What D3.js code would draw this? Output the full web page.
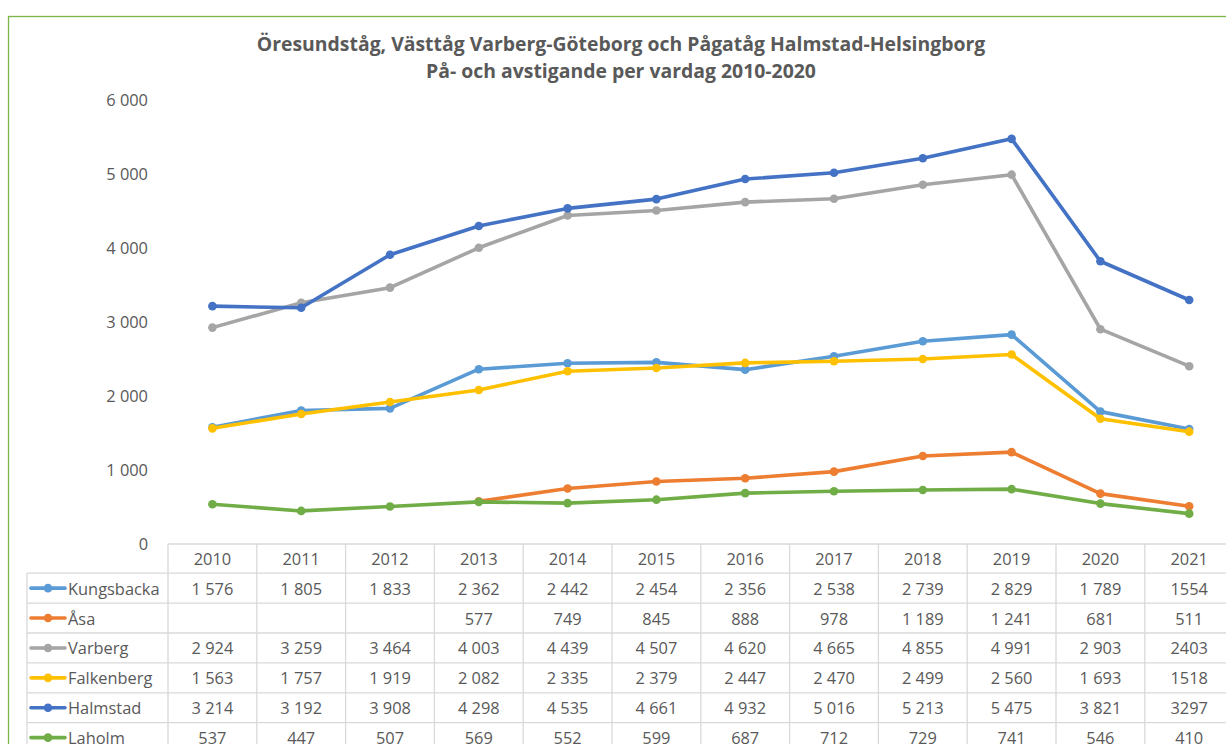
<!DOCTYPE html>
<html>
<head>
<meta charset="utf-8">
<script src="https://cdn.jsdelivr.net/npm/d3@7"></script>
<style>
  html, body { margin: 0; padding: 0; background: #fff; }
  svg { display: block; }
  text { font-family: "Open Sans", "Noto Sans", sans-serif; fill: #595959; }
</style>
</head>
<body>
<svg id="chart" width="1226" height="744"></svg>
<script>
const titleLines = [
  "Öresundståg, Västtåg Varberg-Göteborg och Pågatåg Halmstad-Helsingborg",
  "På- och avstigande per vardag 2010-2020"
];
const years = ["2010","2011","2012","2013","2014","2015","2016","2017","2018","2019","2020","2021"];
const yTicks = [0, 1000, 2000, 3000, 4000, 5000, 6000];
const seriesNames = ["Kungsbacka", "Åsa", "Varberg", "Falkenberg", "Halmstad", "Laholm"];
const seriesColors = ["#5B9BD5", "#ED7D31", "#A5A5A5", "#FFC000", "#4472C4", "#70AD47"];
const kungsbacka = [1576, 1805, 1833, 2362, 2442, 2454, 2356, 2538, 2739, 2829, 1789, 1554];
const asa        = [null, null, null, 577, 749, 845, 888, 978, 1189, 1241, 681, 511];
const varberg    = [2924, 3259, 3464, 4003, 4439, 4507, 4620, 4665, 4855, 4991, 2903, 2403];
const falkenberg = [1563, 1757, 1919, 2082, 2335, 2379, 2447, 2470, 2499, 2560, 1693, 1518];
const halmstad   = [3214, 3192, 3908, 4298, 4535, 4661, 4932, 5016, 5213, 5475, 3821, 3297];
const laholm     = [537, 447, 507, 569, 552, 599, 687, 712, 729, 741, 546, 410];
const plainFormatYears = ["2021"];

const seriesValues = [kungsbacka, asa, varberg, falkenberg, halmstad, laholm];
const series = seriesNames.map((n, i) => ({ name: n, color: seriesColors[i], values: seriesValues[i] }));

const svg = d3.select("#chart");

// frame
svg.append("rect").attr("x", 8.5).attr("y", 16.5).attr("width", 1240).attr("height", 760)
  .attr("fill", "none").attr("stroke", "#7AB648").attr("stroke-width", 1.3);

// title
svg.append("text").attr("x", 621).attr("y", 51).attr("text-anchor", "middle")
  .style("font-size", "19.4px").style("font-weight", "bold").text(titleLines[0]);
svg.append("text").attr("x", 621).attr("y", 78).attr("text-anchor", "middle")
  .style("font-size", "19.4px").style("font-weight", "bold").text(titleLines[1]);

const colStart = 168, colW = 88.8;
const x = d3.scaleBand().domain(years).range([colStart, colStart + colW * years.length]);
const y = d3.scaleLinear().domain([0, 6000]).range([544, 100]);

const spaceFmt = v => d3.format(",")(v).replace(/,/g, " ");

// y axis
const yAxis = d3.axisLeft(y).tickValues(yTicks).tickSize(0).tickPadding(0).tickFormat(spaceFmt);
const ya = svg.append("g").attr("transform", "translate(148,0)").call(yAxis);
ya.select(".domain").remove();
ya.selectAll("text").style("font-size", "16.4px").attr("fill", "#595959")
  .style("font-family", "'Open Sans', sans-serif");

// lines
const line = d3.line()
  .defined(d => d != null)
  .x((d, i) => x(years[i]) + x.bandwidth() / 2)
  .y(d => y(d));

const gS = svg.append("g");
series.forEach(s => {
  const g = gS.append("g");
  g.append("path").datum(s.values).attr("d", line).attr("fill", "none")
    .attr("stroke", s.color).attr("stroke-width", 3.6).attr("stroke-linejoin", "round").attr("stroke-linecap", "round");
  g.selectAll("circle").data(s.values.map((v, i) => ({ v, i })).filter(d => d.v != null))
    .enter().append("circle")
    .attr("cx", d => x(years[d.i]) + x.bandwidth() / 2)
    .attr("cy", d => y(d.v)).attr("r", 4.3).attr("fill", s.color);
});

// data table
const gridColor = "#D9D9D9";
const headerTop = 544, headerH = 29.2, rowH = 29.9, legendLeft = 27;
const tbl = svg.append("g");
const rowY = i => headerTop + headerH + i * rowH;
const tableRight = 1240;

tbl.append("line").attr("x1", colStart).attr("x2", tableRight).attr("y1", headerTop).attr("y2", headerTop)
  .attr("stroke", gridColor).attr("stroke-width", 1.3);
for (let i = 0; i <= series.length; i++) {
  tbl.append("line").attr("x1", legendLeft).attr("x2", tableRight).attr("y1", rowY(i)).attr("y2", rowY(i))
    .attr("stroke", gridColor).attr("stroke-width", 1.3);
}
tbl.append("line").attr("x1", legendLeft).attr("x2", legendLeft).attr("y1", rowY(0)).attr("y2", 760)
  .attr("stroke", gridColor).attr("stroke-width", 1.3);
years.forEach(yr => {
  tbl.append("line").attr("x1", x(yr)).attr("x2", x(yr)).attr("y1", headerTop).attr("y2", 760)
    .attr("stroke", gridColor).attr("stroke-width", 1.3);
});

years.forEach(yr => {
  tbl.append("text").attr("x", x(yr) + x.bandwidth() / 2).attr("y", headerTop + headerH / 2)
    .attr("text-anchor", "middle").attr("dominant-baseline", "central")
    .style("font-size", "16.4px").text(yr);
});

series.forEach((s, r) => {
  const cy = rowY(r) + rowH / 2;
  tbl.append("line").attr("x1", 31).attr("x2", 65).attr("y1", cy).attr("y2", cy)
    .attr("stroke", s.color).attr("stroke-width", 3.6).attr("stroke-linecap", "round");
  tbl.append("circle").attr("cx", 48).attr("cy", cy).attr("r", 4.3).attr("fill", s.color);
  tbl.append("text").attr("x", 68).attr("y", cy).attr("dominant-baseline", "central")
    .style("font-size", "16.4px").text(s.name);
  s.values.forEach((v, i) => {
    if (v == null) return;
    const yr = years[i];
    const label = plainFormatYears.includes(yr) ? String(v) : spaceFmt(v);
    tbl.append("text").attr("x", x(yr) + x.bandwidth() / 2).attr("y", cy)
      .attr("text-anchor", "middle").attr("dominant-baseline", "central")
      .style("font-size", "16.4px").text(label);
  });
});
</script>
</body>
</html>
